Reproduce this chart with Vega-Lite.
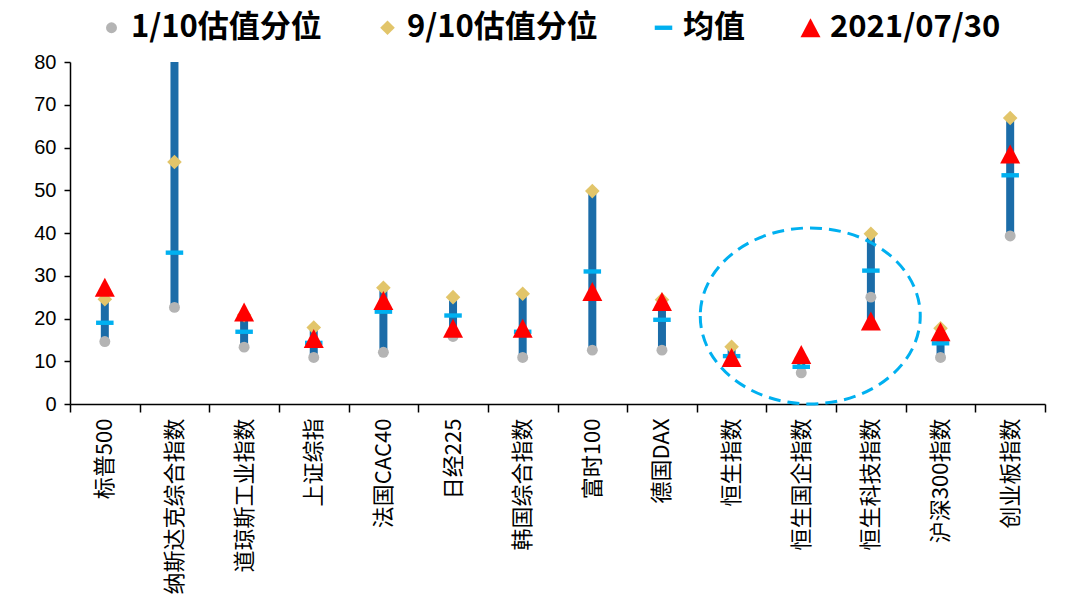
{
  "$schema": "https://vega.github.io/schema/vega-lite/v6.json",
  "autosize": {"type": "none"},
  "width": 975,
  "height": 342,
  "padding": {"left": 70, "top": 62, "right": 34, "bottom": 201},
  "background": "white",
  "config": {"view": {"stroke": null}, "font": "Noto Sans CJK SC"},
  "datasets": {
    "main": [
      {"name": "标普500", "p10": 14.6, "p90": 24.5, "mean": 19.0, "cur": 27.3, "lo": 14.6, "hi": 27.3},
      {"name": "纳斯达克综合指数", "p10": 22.6, "p90": 56.6, "mean": 35.4, "cur": 95, "lo": 22.6, "hi": 95},
      {"name": "道琼斯工业指数", "p10": 13.3, "p90": 20.8, "mean": 16.9, "cur": 21.5, "lo": 13.3, "hi": 21.5},
      {"name": "上证综指", "p10": 10.9, "p90": 17.9, "mean": 14.3, "cur": 15.3, "lo": 10.9, "hi": 17.9},
      {"name": "法国CAC40", "p10": 12.1, "p90": 27.2, "mean": 21.6, "cur": 24.2, "lo": 12.1, "hi": 27.2},
      {"name": "日经225", "p10": 15.8, "p90": 25.0, "mean": 20.7, "cur": 17.7, "lo": 15.8, "hi": 25.0},
      {"name": "韩国综合指数", "p10": 10.9, "p90": 25.8, "mean": 16.9, "cur": 17.7, "lo": 10.9, "hi": 25.8},
      {"name": "富时100", "p10": 12.6, "p90": 49.8, "mean": 31.0, "cur": 26.3, "lo": 12.6, "hi": 49.8},
      {"name": "德国DAX", "p10": 12.6, "p90": 24.4, "mean": 19.7, "cur": 24.0, "lo": 12.6, "hi": 24.4},
      {"name": "恒生指数", "p10": 10.2, "p90": 13.4, "mean": 11.2, "cur": 10.9, "lo": 10.2, "hi": 13.4},
      {"name": "恒生国企指数", "p10": 7.3, "p90": 10.7, "mean": 8.7, "cur": 11.6, "lo": 7.3, "hi": 11.6},
      {"name": "恒生科技指数", "p10": 25.0, "p90": 39.8, "mean": 31.2, "cur": 19.4, "lo": 19.4, "hi": 39.8},
      {"name": "沪深300指数", "p10": 10.9, "p90": 17.7, "mean": 14.2, "cur": 16.9, "lo": 10.9, "hi": 17.7},
      {"name": "创业板指数", "p10": 39.3, "p90": 66.9, "mean": 53.5, "cur": 58.5, "lo": 39.3, "hi": 66.9}
    ],
    "mark": [
      {"name": "恒生国企指数", "y": 20.6}
    ]
  },
  "encoding": {
    "x": {
      "field": "name",
      "type": "nominal",
      "sort": null,
      "scale": {"domain": ["标普500", "纳斯达克综合指数", "道琼斯工业指数", "上证综指", "法国CAC40", "日经225", "韩国综合指数", "富时100", "德国DAX", "恒生指数", "恒生国企指数", "恒生科技指数", "沪深300指数", "创业板指数"], "paddingInner": 0, "paddingOuter": 0},
      "axis": {
        "title": null,
        "labelAngle": -90,
        "labelAlign": "right",
        "labelBaseline": "middle",
        "labelFontSize": 22,
        "labelColor": "black",
        "labelPadding": 6,
        "labelFont": "Noto Sans CJK SC",
        "domainColor": "black",
        "domainWidth": 1.5,
        "tickColor": "black",
        "tickWidth": 1.5,
        "tickSize": 8,
        "tickBand": "extent",
        "labelOverlap": false,
        "labelLimit": 300
      }
    }
  },
  "layer": [
    {
      "data": {"name": "main"},
      "mark": {"type": "rule", "strokeWidth": 8, "color": "#1B6CA8", "clip": true},
      "encoding": {
        "y": {
          "field": "lo",
          "type": "quantitative",
          "scale": {"domain": [0, 80], "nice": false},
          "axis": {
            "title": null,
            "values": [0, 10, 20, 30, 40, 50, 60, 70, 80],
            "labelFontSize": 20,
            "labelColor": "black",
            "labelFont": "Liberation Sans",
            "labelPadding": 8,
            "domainColor": "black",
            "domainWidth": 1.5,
            "tickColor": "black",
            "tickWidth": 1.5,
            "tickSize": 6,
            "grid": false
          }
        },
        "y2": {"field": "hi"}
      }
    },
    {
      "data": {"name": "main"},
      "transform": [
        {"fold": ["p10", "p90", "mean", "cur"], "as": ["series", "value"]}
      ],
      "mark": {"type": "point", "filled": true, "opacity": 1, "clip": true, "strokeWidth": 0},
      "encoding": {
        "y": {"field": "value", "type": "quantitative"},
        "color": {
          "field": "series",
          "type": "nominal",
          "scale": {"domain": ["p10", "p90", "mean", "cur"], "range": ["#B4B4B4", "#E2C56A", "#00B0F0", "#FF0000"]},
          "legend": {
            "title": null,
            "orient": "none",
            "legendX": 26,
            "legendY": -50,
            "direction": "horizontal",
            "labelExpr": "{'p10': '1/10估值分位', 'p90': '9/10估值分位', 'mean': '均值', 'cur': '2021/07/30'}[datum.value]",
            "labelFontSize": 31,
            "labelFontWeight": "bold",
            "labelFont": "Noto Sans CJK SC",
            "labelColor": "black",
            "labelLimit": 400,
            "symbolSize": 110,
            "symbolStrokeWidth": 0,
            "columnPadding": 50,
            "labelOffset": 4
          }
        },
        "shape": {
          "field": "series",
          "type": "nominal",
          "scale": {"domain": ["p10", "p90", "mean", "cur"], "range": ["circle", "M-1,0L0,-1L1,0L0,1Z", "M-1,-0.25L1,-0.25L1,0.25L-1,0.25Z", "M0,-0.95L1,0.95L-1,0.95Z"]}
        },
        "size": {
          "field": "series",
          "type": "nominal",
          "scale": {"domain": ["p10", "p90", "mean", "cur"], "range": [120, 400, 256, 300]},
          "legend": null
        }
      }
    },
    {
      "data": {"name": "mark"},
      "mark": {"type": "point", "shape": "M-1,0A1,0.8 0 1,0 1,0A1,0.8 0 1,0 -1,0Z", "size": 48400, "filled": false, "stroke": "#00B0F0", "strokeWidth": 3, "strokeDash": [12, 7], "xOffset": 9, "opacity": 1},
      "encoding": {
        "y": {"field": "y", "type": "quantitative"}
      }
    }
  ]
}
